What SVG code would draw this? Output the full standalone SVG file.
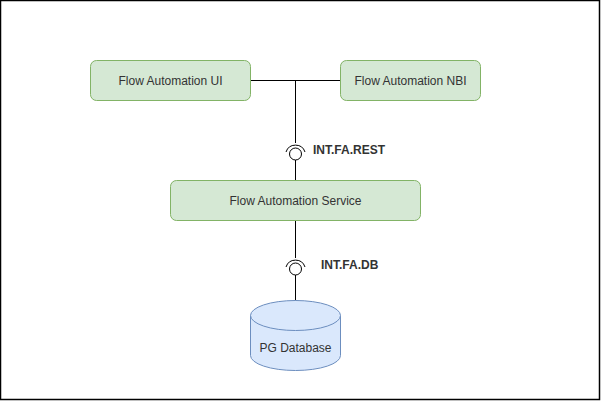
<svg xmlns="http://www.w3.org/2000/svg" width="601" height="401" viewBox="0 0 601 401">
<style>
.box{fill:#d5e8d4;stroke:#82b366;stroke-width:1}
.db{fill:#dae8fc;stroke:#6c8ebf;stroke-width:1}
.lbl{font-family:"Liberation Sans",Arial,sans-serif;font-size:12px;fill:#333333;text-anchor:middle}
.ifl{font-family:"Liberation Sans",Arial,sans-serif;font-size:12px;font-weight:bold;fill:#333333}
.ln{fill:none;stroke:#000000;stroke-width:1}
</style>
<rect x="0.5" y="0.5" width="599" height="399" fill="#ffffff" stroke="#000000" stroke-width="1.5"/>
<g id="connectors">
<path class="ln" d="M250.5,80.5 H340.5"/>
<path class="ln" d="M295.5,80.5 V143"/>
<path class="ln" d="M295.5,160 V180.5"/>
<path class="ln" d="M295.5,220.5 V258"/>
<path class="ln" d="M295.5,275 V300.5"/>
</g>
<g id="if-rest">
<circle class="ln" cx="295.5" cy="154" r="6"/>
<path class="ln" d="M286,152 A10,10 0 0 1 305,152"/>
<text class="ifl" x="313" y="154">INT.FA.REST</text>
</g>
<g id="if-db">
<circle class="ln" cx="295.5" cy="269" r="6"/>
<path class="ln" d="M286,267 A10,10 0 0 1 305,267"/>
<text class="ifl" x="321" y="269">INT.FA.DB</text>
</g>
<g id="fa-ui">
<rect class="box" x="90.5" y="60.5" width="160" height="40" rx="6"/>
<text class="lbl" x="170.5" y="84.5">Flow Automation UI</text>
</g>
<g id="fa-nbi">
<rect class="box" x="340.5" y="60.5" width="140" height="40" rx="6"/>
<text class="lbl" x="410.5" y="84.5">Flow Automation NBI</text>
</g>
<g id="fa-service">
<rect class="box" x="170.5" y="180.5" width="250" height="40" rx="6"/>
<text class="lbl" x="295.5" y="204.5">Flow Automation Service</text>
</g>
<g id="pg-db">
<path class="db" d="M250.5,315.5 A45,15 0 0 1 340.5,315.5 V355.5 A45,15 0 0 1 250.5,355.5 Z"/>
<path class="db" d="M250.5,315.5 A45,15 0 0 0 340.5,315.5" fill="none"/>
<text class="lbl" x="295.5" y="352">PG Database</text>
</g>
</svg>
